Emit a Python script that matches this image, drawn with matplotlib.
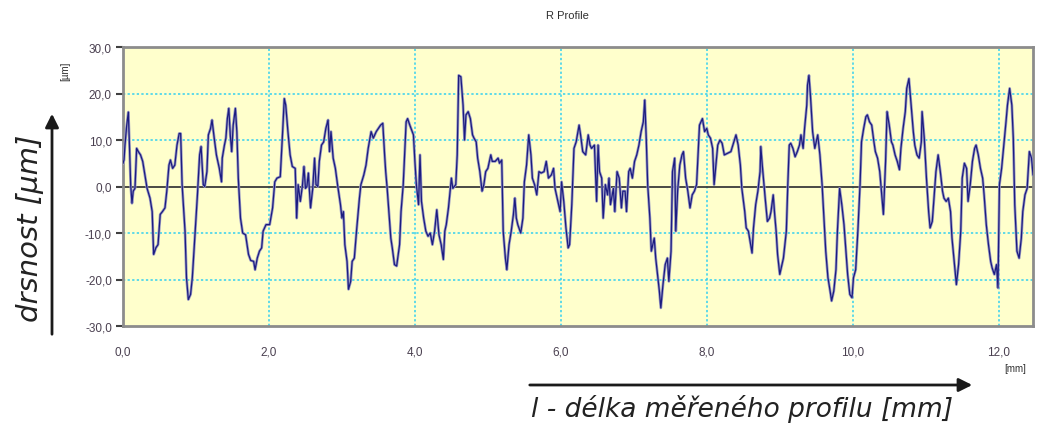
import matplotlib
matplotlib.use("Agg")
import matplotlib.pyplot as plt
from matplotlib.ticker import FuncFormatter

# ---- data ----
x_mm = [
    0.0, 0.014, 0.027, 0.05, 0.073, 0.087, 0.105, 0.123, 0.14, 0.164, 0.187, 0.21, 0.24, 0.27, 0.3, 0.33,
    0.37, 0.4, 0.42, 0.45, 0.48, 0.51, 0.54, 0.575, 0.6, 0.63, 0.65, 0.68, 0.71, 0.74, 0.77, 0.79,
    0.81, 0.85, 0.87, 0.895, 0.926, 0.95, 0.99, 1.02, 1.05, 1.07, 1.1, 1.12, 1.15, 1.17, 1.2, 1.22,
    1.25, 1.28, 1.32, 1.35, 1.36, 1.39, 1.41, 1.43, 1.45, 1.47, 1.49, 1.51, 1.54, 1.56, 1.58, 1.61,
    1.64, 1.68, 1.72, 1.75, 1.79, 1.81, 1.84, 1.87, 1.9, 1.92, 1.96, 2.01, 2.05,
    2.08, 2.11, 2.155, 2.19, 2.21, 2.23, 2.26, 2.29, 2.32, 2.36, 2.38, 2.4, 2.43, 2.46, 2.48, 2.5,
    2.52, 2.54, 2.57, 2.6, 2.625, 2.645, 2.67, 2.69, 2.72, 2.75, 2.78, 2.81, 2.83, 2.85, 2.88, 2.91,
    2.94, 2.98, 3.0, 3.02, 3.04, 3.07, 3.09, 3.12, 3.14, 3.17, 3.2, 3.24, 3.26, 3.3, 3.33, 3.36,
    3.4, 3.43, 3.47, 3.5, 3.53, 3.56, 3.585, 3.6, 3.62, 3.64, 3.67, 3.69, 3.72, 3.75, 3.79, 3.81,
    3.84, 3.88, 3.9, 3.93, 3.98, 4.0, 4.02, 4.05, 4.07, 4.09,
    4.12, 4.15, 4.18, 4.21, 4.24, 4.27, 4.3, 4.33, 4.36, 4.39, 4.41, 4.43, 4.46, 4.5, 4.52, 4.56,
    4.58, 4.6, 4.63, 4.66, 4.68, 4.7, 4.73, 4.76, 4.79, 4.81, 4.84, 4.86, 4.89, 4.92, 4.945, 4.97,
    5.0, 5.04, 5.06, 5.1, 5.14, 5.16, 5.19, 5.21, 5.24, 5.26, 5.29, 5.32, 5.35, 5.37, 5.39, 5.41,
    5.45, 5.48, 5.5, 5.53, 5.56, 5.59, 5.61, 5.64, 5.67, 5.7, 5.73, 5.77, 5.8, 5.83, 5.87, 5.9,
    5.92, 5.96, 5.99, 6.01, 6.04, 6.07, 6.1, 6.12, 6.15, 6.18, 6.21,
    6.25, 6.27, 6.3, 6.34, 6.375, 6.4, 6.42, 6.46, 6.49, 6.51, 6.53, 6.56, 6.58, 6.61, 6.64, 6.66,
    6.68, 6.72, 6.74, 6.77, 6.8, 6.83, 6.85, 6.88, 6.9, 6.93, 6.95, 6.98, 7.01, 7.04, 7.07, 7.1,
    7.13, 7.15, 7.17, 7.19, 7.22, 7.24, 7.28, 7.3, 7.33, 7.35, 7.37, 7.4, 7.43, 7.46, 7.48, 7.51,
    7.53, 7.56, 7.575, 7.6, 7.63, 7.66, 7.68, 7.71, 7.74, 7.77, 7.8, 7.83, 7.86, 7.88, 7.9, 7.94,
    7.97, 8.0, 8.02, 8.05, 8.08, 8.1, 8.12, 8.15, 8.18, 8.21, 8.24, 8.28,
    8.33, 8.37, 8.4, 8.43, 8.46, 8.48, 8.52, 8.54, 8.57, 8.6, 8.62, 8.64, 8.67, 8.7, 8.73, 8.74,
    8.76, 8.78, 8.8, 8.83, 8.86, 8.88, 8.91, 8.93, 8.95, 8.97, 9.0, 9.03, 9.05, 9.09, 9.11, 9.13,
    9.15, 9.18, 9.21, 9.24, 9.27, 9.29, 9.32, 9.34, 9.37, 9.38, 9.4, 9.42, 9.45, 9.48, 9.5, 9.52,
    9.55, 9.58, 9.6, 9.63, 9.66, 9.69, 9.71, 9.74, 9.77, 9.79, 9.82, 9.85, 9.88, 9.9, 9.93, 9.96,
    9.99, 10.01, 10.04, 10.07, 10.1, 10.12, 10.15, 10.18, 10.2, 10.23, 10.26, 10.29, 10.31, 10.34,
    10.37, 10.39, 10.42, 10.45, 10.47, 10.5, 10.53, 10.55, 10.58, 10.61, 10.64, 10.66, 10.69, 10.72,
    10.74, 10.77, 10.8, 10.83, 10.85, 10.88, 10.91, 10.94, 10.95, 10.98, 11.01, 11.04, 11.06, 11.09,
    11.12, 11.14, 11.17, 11.2, 11.23, 11.25, 11.28, 11.31, 11.34, 11.36, 11.39, 11.42, 11.45, 11.48,
    11.5, 11.53, 11.56, 11.58, 11.61, 11.64, 11.67, 11.69, 11.72, 11.75, 11.78, 11.8, 11.83, 11.86,
    11.89, 11.91, 11.94, 11.97, 11.99, 12.01, 12.04, 12.07, 12.1, 12.12, 12.15, 12.18, 12.2, 12.22,
    12.25, 12.28, 12.31, 12.33, 12.36, 12.39, 12.42, 12.45, 12.47,
]
r_um = [
    5.0, 5.7, 8.9, 13.0, 16.0, 9.6, 0.4, -3.6, -1.0, -0.4, 8.2, 7.5, 6.8, 5.4, 2.5, -0.4,
    -2.5, -5.4, -14.6, -13.2, -12.5, -6.0, -5.4, -4.6, -1.0, 4.6, 5.7, 3.9, 4.6, 8.9, 11.4, 11.4,
    0.4, -9.6, -19.6, -24.3, -23.2, -19.6, -9.6, -1.8, 6.8, 8.6, 0.4, 0.0, 3.2, 11.1, 12.5, 14.3,
    10.4, 6.8, 3.9, 1.0, 6.1, 8.9, 10.4, 14.6, 16.8, 11.1, 7.5, 13.2, 16.8, 11.8, 1.8, -6.8,
    -10.0, -10.4, -14.6, -15.9, -16.1, -17.9, -15.4, -13.9, -13.2, -9.6, -8.2, -8.2, -4.6,
    1.0, 1.8, 2.1, 12.5, 18.9, 17.5, 11.8, 6.8, 4.3, 3.9, -6.8, 0.4, -3.2, 0.4, 4.3, -0.4,
    0.0, 2.9, -4.6, -0.4, 6.1, 0.4, 0.0, 5.4, 8.9, 9.6, 12.5, 14.3, 7.5, 11.8, 6.1, 3.9,
    0.4, -3.9, -6.8, -5.4, -12.5, -16.1, -22.1, -20.4, -16.1, -15.4, -9.6, -2.5, 0.4, 2.5, 4.6, 8.2,
    11.8, 10.4, 11.8, 12.5, 13.2, 13.6, 6.8, 3.2, -0.4, -4.6, -11.1, -13.2, -16.8, -17.1, -12.5, -5.4,
    0.4, 13.9, 14.6, 13.2, 11.1, 5.4, 0.4, -3.9, 6.8, -3.2,
    -6.8, -9.6, -10.7, -10.0, -12.5, -9.6, -5.0, -10.4, -12.5, -15.7, -9.6, -8.2, -4.6, 1.8, -0.4, 0.4,
    6.8, 23.9, 23.6, 17.5, 10.0, 15.4, 16.1, 14.6, 11.1, 10.4, 9.6, 6.1, 3.2, -1.0, 0.4, 3.2,
    3.9, 6.8, 5.4, 5.4, 6.1, 5.0, 5.7, -9.6, -15.4, -17.9, -12.5, -9.6, -6.0, -2.5, -6.8, -8.2,
    -10.0, -6.8, 1.0, 4.6, 11.1, 6.8, 1.8, 0.4, -1.8, 3.2, 2.9, 3.2, 5.4, 1.8, 2.5, 3.9,
    -0.4, -3.2, -5.4, 1.0, -3.2, -8.9, -13.2, -12.5, -3.9, 8.2, 9.6,
    13.2, 11.1, 7.5, 6.8, 11.1, 8.9, 8.2, 8.9, -3.2, 8.9, 3.2, 1.8, -6.8, 0.4, -1.8, 1.8,
    -3.9, -0.4, -5.4, 3.2, 1.8, -4.6, -1.0, -1.0, -5.4, 3.2, 3.9, 1.8, 5.4, 6.8, 8.9, 11.8,
    13.9, 18.6, 10.4, 0.4, -6.8, -13.9, -11.1, -15.4, -19.6, -22.5, -26.1, -21.0, -16.8, -15.4, -20.4, -13.9,
    3.2, 6.1, -9.6, -1.0, 4.6, 6.8, 7.5, 1.8, -1.0, -4.6, -1.8, -1.0, 0.4, 6.8, 13.2, 14.6,
    11.8, 12.5, 11.1, 10.4, 8.2, 0.4, 3.9, 8.9, 10.0, 9.3, 6.8, 7.1,
    7.5, 9.6, 11.1, 8.9, 4.6, -0.4, -5.4, -8.9, -9.6, -12.5, -14.3, -8.9, -3.9, -1.0, 3.2, 8.6,
    4.6, 1.0, -2.5, -7.5, -6.8, -5.4, -1.8, -6.0, -9.6, -14.6, -18.9, -16.8, -15.4, -9.6, 0.4, 8.9,
    9.3, 8.2, 6.4, 7.5, 8.9, 11.1, 8.2, 12.5, 17.5, 21.8, 23.9, 19.6, 11.8, 8.2, 9.6, 11.1,
    6.8, 0.4, -5.4, -13.9, -19.6, -22.5, -24.6, -22.5, -17.9, -9.6, -0.4, -3.9, -8.2, -12.5, -18.9, -23.2,
    -23.9, -19.6, -17.9, -9.6, 0.4, 9.6, 12.5, 15.0, 15.4, 13.9, 13.2, 9.6, 7.5, 6.1,
    3.2, -0.4, -6.0, 5.4, 16.1, 13.2, 9.6, 8.9, 6.8, 5.4, 3.6, 8.2, 12.5, 16.1,
    21.1, 23.2, 17.5, 11.8, 8.9, 6.8, 6.1, 9.6, 16.1, 10.4, 1.8, -5.4, -8.9, -7.5,
    -1.0, 3.2, 6.8, 3.2, -1.0, -2.5, -3.2, -2.5, -5.4, -11.1, -16.1, -21.1, -16.8, -9.6,
    1.8, 5.0, 3.9, -3.2, 0.4, 5.4, 8.2, 8.9, 6.8, 3.9, 1.8, -1.8, -8.2, -12.5,
    -16.1, -17.5, -18.9, -16.8, -21.8, 0.4, 3.9, 8.9, 13.9, 17.5, 21.1, 17.5, 10.4, -3.9,
    -13.9, -15.4, -11.1, -5.4, -1.8, -0.4, 7.5, 6.1, 2.5,
]
x_ticks = [0, 2, 4, 6, 8, 10, 12]
y_ticks = [-30, -20, -10, 0, 10, 20, 30]

W, H = 1040, 427
fig = plt.figure(figsize=(W / 100, H / 100), dpi=100)
fig.patch.set_facecolor("white")

L, R, T, B = 123, 1033, 48, 327
ax = fig.add_axes([L / W, 1 - B / H, (R - L) / W, (B - T) / H])
ax.set_facecolor("#ffffcc")

ax.set_xlim(0, 12.47)
ax.set_ylim(-30, 30)
ax.set_xticks(x_ticks)
ax.set_yticks(y_ticks)
fmt = FuncFormatter(lambda v, p: f"{v:.1f}".replace(".", ","))
ax.xaxis.set_major_formatter(fmt)
ax.yaxis.set_major_formatter(fmt)

for lab in ax.get_xticklabels() + ax.get_yticklabels():
    lab.set_fontfamily("Liberation Sans")
    lab.set_fontsize(8.5)
    lab.set_color("#4a4050")
ax.tick_params(axis="y", length=5, width=1.5, color="#404040", pad=3)
ax.tick_params(axis="x", length=0, pad=14)

for s in ax.spines.values():
    s.set_color("#8c8c8c")
    s.set_linewidth(2)

grid_c = "#33d0f0"
for gx in x_ticks[1:]:
    ax.axvline(gx, color=grid_c, lw=1.1, ls=(0, (1.5, 1.5)), zorder=1)
for gy in [-20, -10, 10, 20]:
    ax.axhline(gy, color=grid_c, lw=1.1, ls=(0, (1.5, 1.5)), zorder=1)
ax.axhline(0, color="#3a3a3a", lw=1.3, zorder=2)

ax.plot(x_mm, r_um, color="#9a9ac4", lw=2.0, zorder=3, solid_joinstyle="round")
ax.plot(x_mm, r_um, color="#1c1c80", lw=0.9, zorder=4)

# titles and unit labels
fig.text(567 / W, 1 - 16 / H, "R Profile", ha="center", va="center",
         fontsize=8, family="Liberation Sans", color="#303030")
fig.text(65 / W, 1 - 71 / H, "[µm]", ha="center", va="center", rotation=90,
         fontsize=7, family="Liberation Sans", color="#303030")
fig.text(1015 / W, 1 - 369 / H, "[mm]", ha="center", va="center",
         fontsize=7, family="Liberation Sans", color="#303030")

# big italic axis descriptions with arrows
fig.text(30 / W, 1 - 228 / H, "drsnost [µm]", ha="center", va="center", rotation=90,
         fontsize=21, style="italic", family="DejaVu Sans", color="#222222")
fig.text(742 / W, 1 - 409 / H, "l - délka měřeného profilu [mm]", ha="center", va="center",
         fontsize=19, style="italic", family="DejaVu Sans", color="#222222")

fig.add_artist(matplotlib.patches.FancyArrowPatch(
    (52 / W, 1 - 338 / H), (52 / W, 1 - 112 / H), transform=fig.transFigure,
    arrowstyle="-|>,head_length=8,head_width=4", lw=2, color="#1a1a1a"))
fig.add_artist(matplotlib.patches.FancyArrowPatch(
    (527 / W, 1 - 386 / H), (975 / W, 1 - 386 / H), transform=fig.transFigure,
    arrowstyle="-|>,head_length=8,head_width=4", lw=2, color="#1a1a1a"))

fig.savefig("out.png", dpi=100)
